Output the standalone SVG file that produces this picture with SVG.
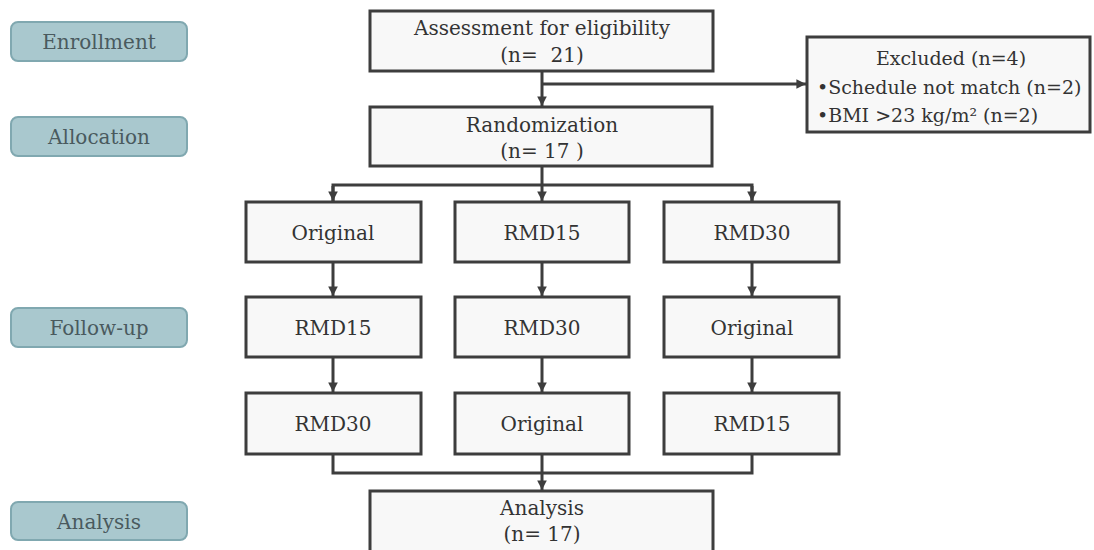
<svg xmlns="http://www.w3.org/2000/svg" width="1094" height="550" viewBox="0 0 1094 550">
  <style>
    .box { fill: #f8f8f8; stroke: #3d3d3d; stroke-width: 3; }
    .stage { fill: #a9c8ce; stroke: #80a8b0; stroke-width: 2; }
    text { font-family: "DejaVu Serif", "Liberation Serif", "Noto Serif", serif; }
    .t { font-size: 20px; fill: #333333; text-anchor: middle; }
    .sm { font-size: 19px; }
    .st { font-size: 20px; fill: #4a5a5e; text-anchor: middle; }
    .lt { text-anchor: start; }
    .wire { fill: none; stroke: #3d3d3d; stroke-width: 3; }
  </style>
  <defs>
    <marker id="arrow" viewBox="0 0 10 10" refX="10" refY="5" markerWidth="3.2" markerHeight="3.2" orient="auto" markerUnits="strokeWidth">
      <path d="M0,0 L10,5 L0,10 Z" fill="#3d3d3d"/>
    </marker>
  </defs>
  <rect width="1094" height="550" fill="#ffffff"/>

  <!-- stage labels -->
  <g id="stage-enrollment">
    <rect class="stage" x="11" y="22" width="176" height="39" rx="7"/>
    <text class="st" x="99" y="49">Enrollment</text>
  </g>
  <g id="stage-allocation">
    <rect class="stage" x="11" y="117" width="176" height="39" rx="7"/>
    <text class="st" x="99" y="144">Allocation</text>
  </g>
  <g id="stage-followup">
    <rect class="stage" x="11" y="308" width="176" height="39" rx="7"/>
    <text class="st" x="99" y="335">Follow-up</text>
  </g>
  <g id="stage-analysis">
    <rect class="stage" x="11" y="502" width="176" height="38" rx="7"/>
    <text class="st" x="99" y="529">Analysis</text>
  </g>

  <!-- connectors -->
  <g id="connectors">
    <path class="wire" d="M542,71 V106" marker-end="url(#arrow)"/>
    <path class="wire" d="M542,84 H806" marker-end="url(#arrow)"/>
    <path class="wire" d="M542,166 V201" marker-end="url(#arrow)"/>
    <path class="wire" d="M333,201 V185 H752 V201" />
    <path class="wire" d="M333,186 V201" marker-end="url(#arrow)"/>
    <path class="wire" d="M752,186 V201" marker-end="url(#arrow)"/>
    <path class="wire" d="M333,262 V296" marker-end="url(#arrow)"/>
    <path class="wire" d="M542,262 V296" marker-end="url(#arrow)"/>
    <path class="wire" d="M752,262 V296" marker-end="url(#arrow)"/>
    <path class="wire" d="M333,357 V392" marker-end="url(#arrow)"/>
    <path class="wire" d="M542,357 V392" marker-end="url(#arrow)"/>
    <path class="wire" d="M752,357 V392" marker-end="url(#arrow)"/>
    <path class="wire" d="M333,454 V473 H752 V454"/>
    <path class="wire" d="M542,454 V490" marker-end="url(#arrow)"/>
  </g>

  <!-- flow boxes -->
  <g id="assessment">
    <rect class="box" x="370" y="11" width="343" height="60"/>
    <text class="t" x="542" y="35">Assessment for eligibility</text>
    <text class="t" x="542" y="62">(n=&#160;&#160;21)</text>
  </g>
  <g id="excluded">
    <rect class="box" x="807" y="37" width="283" height="95"/>
    <text class="t sm" x="951" y="65">Excluded (n=4)</text>
    <text class="t sm lt" x="817" y="94">•Schedule not match (n=2)</text>
    <text class="t sm lt" x="817" y="122">•BMI &gt;23 kg/m² (n=2)</text>
  </g>
  <g id="randomization">
    <rect class="box" x="370" y="107" width="342" height="59"/>
    <text class="t" x="542" y="132">Randomization</text>
    <text class="t" x="542" y="158">(n= 17&#160;)</text>
  </g>

  <g id="seq1-p1">
    <rect class="box" x="246" y="202" width="175" height="60"/>
    <text class="t" x="333" y="240">Original</text>
  </g>
  <g id="seq2-p1">
    <rect class="box" x="455" y="202" width="174" height="60"/>
    <text class="t" x="542" y="240">RMD15</text>
  </g>
  <g id="seq3-p1">
    <rect class="box" x="664" y="202" width="175" height="60"/>
    <text class="t" x="752" y="240">RMD30</text>
  </g>

  <g id="seq1-p2">
    <rect class="box" x="246" y="297" width="175" height="60"/>
    <text class="t" x="333" y="335">RMD15</text>
  </g>
  <g id="seq2-p2">
    <rect class="box" x="455" y="297" width="174" height="60"/>
    <text class="t" x="542" y="335">RMD30</text>
  </g>
  <g id="seq3-p2">
    <rect class="box" x="664" y="297" width="175" height="60"/>
    <text class="t" x="752" y="335">Original</text>
  </g>

  <g id="seq1-p3">
    <rect class="box" x="246" y="393" width="175" height="61"/>
    <text class="t" x="333" y="431">RMD30</text>
  </g>
  <g id="seq2-p3">
    <rect class="box" x="455" y="393" width="174" height="61"/>
    <text class="t" x="542" y="431">Original</text>
  </g>
  <g id="seq3-p3">
    <rect class="box" x="664" y="393" width="175" height="61"/>
    <text class="t" x="752" y="431">RMD15</text>
  </g>

  <g id="analysis">
    <rect class="box" x="370" y="491" width="343" height="62"/>
    <text class="t" x="542" y="515">Analysis</text>
    <text class="t" x="542" y="541">(n= 17)</text>
  </g>
</svg>
